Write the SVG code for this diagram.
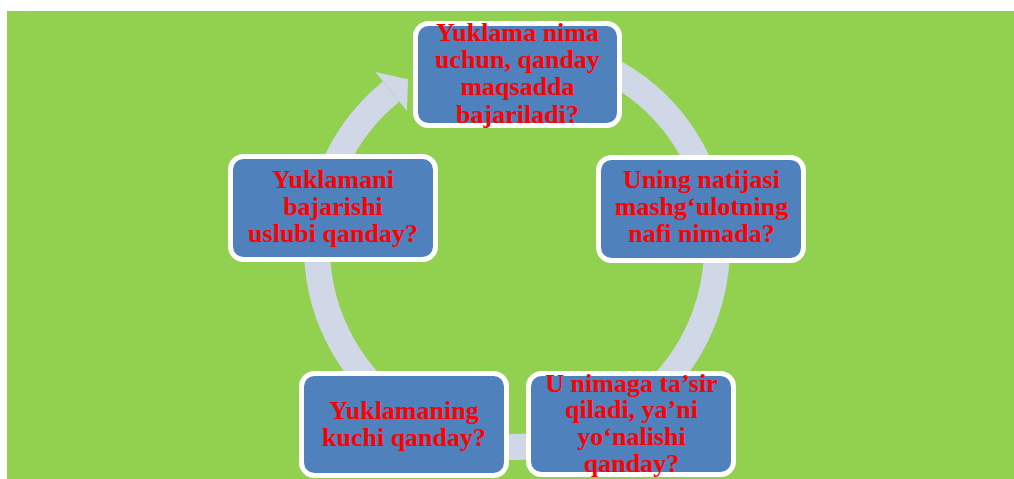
<svg xmlns="http://www.w3.org/2000/svg" width="1014" height="479" viewBox="0 0 1014 479">
<style>
.box{fill:#4F81BD;stroke:#FFFFFF;stroke-width:5}
.t{font-family:"Liberation Serif","Times New Roman",serif;font-weight:bold;font-size:26px;fill:#FF0000;text-anchor:middle}
.ring{fill:none;stroke:#D0D7E7;stroke-width:26}
</style>
<rect x="0" y="0" width="1014" height="479" fill="#FFFFFF"/>
<rect x="7" y="11" width="1007" height="468" fill="#92D050"/>
<g id="connectors">
<path class="ring" d="M 534.4 47.8 A 200 200 0 1 1 391.1 91.6"/>
<polygon points="375.4,72.1 408.1,79.3 406.9,111.0" fill="#D0D7E7"/>
</g>
<g id="node1">
<rect class="box" x="415.5" y="23.5" width="204" height="102" rx="13"/>
<text class="t" x="517.5" y="41">Yuklama nima</text>
<text class="t" x="517.5" y="68.2">uchun, qanday</text>
<text class="t" x="517.5" y="95.4">maqsadda</text>
<text class="t" x="517.5" y="122.6">bajariladi?</text>
</g>
<g id="node2">
<rect class="box" x="598.5" y="157.5" width="205" height="103" rx="13"/>
<text class="t" x="701.5" y="188">Uning natijasi</text>
<text class="t" x="701.5" y="215">mashg‘ulotning</text>
<text class="t" x="701.5" y="242">nafi nimada?</text>
</g>
<g id="node3">
<rect class="box" x="528.5" y="373.5" width="205" height="101" rx="13"/>
<text class="t" x="631.5" y="391.7">U nimaga ta’sir</text>
<text class="t" x="631.5" y="418.3">qiladi, ya’ni</text>
<text class="t" x="631.5" y="445">yo‘nalishi</text>
<text class="t" x="631.5" y="471.7">qanday?</text>
</g>
<g id="node4">
<rect class="box" x="301.5" y="373.5" width="205" height="102" rx="13"/>
<text class="t" x="404" y="419.3">Yuklamaning</text>
<text class="t" x="404" y="445.5">kuchi qanday?</text>
</g>
<g id="node5">
<rect class="box" x="230.5" y="156.5" width="205" height="103" rx="13"/>
<text class="t" x="333" y="187.7">Yuklamani</text>
<text class="t" x="333" y="215">bajarishi</text>
<text class="t" x="333" y="241.7">uslubi qanday?</text>
</g>
</svg>
